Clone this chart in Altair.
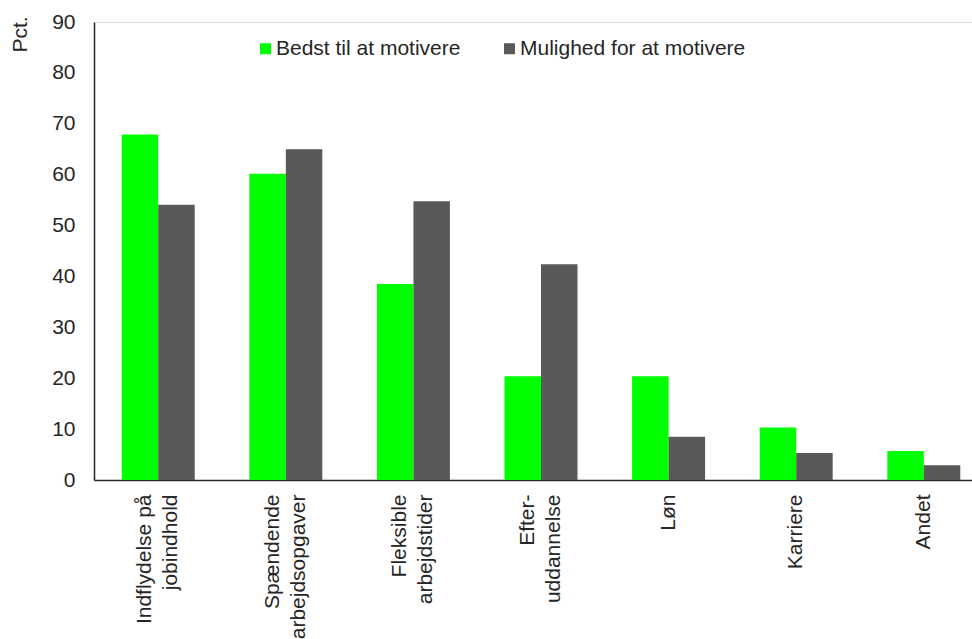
import altair as alt
import pandas as pd

# Survey results (percent of respondents)
categories = [
    "Indflydelse på\njobindhold",
    "Spændende\narbejdsopgaver",
    "Fleksible\narbejdstider",
    "Efter-\nuddannelse",
    "Løn",
    "Karriere",
    "Andet",
]
series = ["Bedst til at motivere", "Mulighed for at motivere"]
bedst = [67.9, 60.2, 38.5, 20.4, 20.4, 10.3, 5.7]
mulighed = [54.1, 65.0, 54.8, 42.4, 8.5, 5.3, 2.9]
colors = ["#00ff00", "#595959"]
y_ticks = list(range(0, 100, 10))

rows = []
for cat, b, m in zip(categories, bedst, mulighed):
    rows.append({"kategori": cat, "serie": series[0], "pct": b})
    rows.append({"kategori": cat, "serie": series[1], "pct": m})
df = pd.DataFrame(rows)

FONT = "Liberation Sans"
TEXT = "#262626"
FS = 21

chart = (
    alt.Chart(df)
    .mark_bar()
    .encode(
        x=alt.X(
            "kategori:N",
            sort=categories,
            scale=alt.Scale(paddingInner=0.428, paddingOuter=0.1546, align=0.703),
            axis=alt.Axis(
                title=None,
                labelAngle=270,
                labelExpr="split(datum.label, '\\n')",
                labelFontSize=FS,
                labelLineHeight=26,
                labelPadding=14,
                # two-line labels are centred on their category
                labelOffset={
                    "condition": {"test": "indexof(datum.value, '\\n') >= 0", "value": -13},
                    "value": 0,
                },
                labelLimit=0,
                labelOverlap=False,
                labelBound=False,
                ticks=False,
                domainColor=TEXT,
                domainWidth=1.5,
                labelColor=TEXT,
                labelFont=FONT,
            ),
        ),
        xOffset=alt.XOffset(
            "serie:N",
            sort=series,
            scale=alt.Scale(domain=series, paddingInner=0, paddingOuter=0),
        ),
        y=alt.Y(
            "pct:Q",
            scale=alt.Scale(domain=[0, 90], nice=False),
            axis=alt.Axis(
                title="Pct.",
                titleAngle=270,
                titleX=-74,
                titleY=12,
                titleAlign="center",
                titleBaseline="middle",
                titleFontSize=FS,
                titleFontWeight="normal",
                titleColor=TEXT,
                titleFont=FONT,
                values=y_ticks,
                grid=False,
                ticks=False,
                labelFontSize=FS,
                labelPadding=19,
                labelColor=TEXT,
                labelFont=FONT,
                domainColor=TEXT,
                domainWidth=1.5,
            ),
        ),
        color=alt.Color(
            "serie:N",
            sort=series,
            scale=alt.Scale(domain=series, range=colors),
            legend=alt.Legend(
                title=None,
                orient="none",
                legendX=161,
                legendY=16,
                direction="horizontal",
                symbolType="square",
                symbolSize=121,
                symbolStrokeWidth=0,
                labelFontSize=FS,
                labelFont=FONT,
                labelColor=TEXT,
                labelOffset=0,
                columnPadding=38,
                padding=0,
                labelLimit=0,
            ),
        ),
    )
    .properties(
        width=878,
        height=458,
        autosize=alt.AutoSizeParams(type="none"),
        padding={"left": 94, "top": 22, "right": 0, "bottom": 159},
    )
    .configure_view(stroke=None)
    .configure(background="white")
)

chart.save("out.html", embed_options={"renderer": "svg", "actions": False})
